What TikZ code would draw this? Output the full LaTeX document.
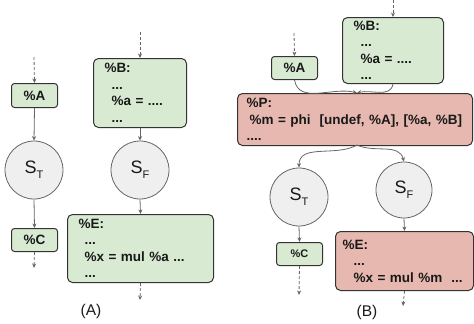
\documentclass[tikz,border=0pt]{standalone}
\usepackage{fontspec}
\setmainfont{Liberation Sans}
\usetikzlibrary{arrows.meta}
\definecolor{boxgreen}{HTML}{D9EAD3}
\definecolor{boxred}{HTML}{E6B8AF}
\definecolor{circfill}{HTML}{EFEFEF}
\definecolor{linegray}{HTML}{666666}
\definecolor{edgedark}{HTML}{333333}
\begin{document}
\begin{tikzpicture}[x=1pt,y=-1pt,
  codebox/.style={rectangle, rounded corners=5pt, draw=edgedark, line width=1pt,
    anchor=north west, align=left, inner ysep=0pt, text=black!90,
    font=\bfseries\fontsize{13.5}{16.5}\selectfont},
  greenbox/.style={codebox, fill=boxgreen},
  redbox/.style={codebox, fill=boxred},
  smallbox/.style={rectangle, rounded corners=3pt, draw=edgedark, line width=1pt,
    fill=boxgreen, anchor=north west, align=center, inner sep=0pt, text=black!90,
    font=\bfseries\fontsize{13.5}{13.5}\selectfont},
  state/.style={circle, draw=linegray, line width=0.8pt, fill=circfill, inner sep=0pt,
    minimum size=58pt, text=black!90},
  conn/.style={draw=linegray, line width=0.8pt, -{Stealth[length=4.5pt,width=4pt]}},
  dconn/.style={conn, dash pattern=on 3pt off 2pt},
  panel/.style={font=\fontsize{15.5}{15.5}\selectfont, text=black!90}
]
\useasboundingbox (0,0) rectangle (474,324);
\newcommand{\stlab}[1]{{\fontsize{18}{18}\selectfont S\raisebox{-5pt}{\fontsize{11}{11}\selectfont #1}}}

% ---------------- Panel A ----------------
\node[smallbox, minimum width=46pt, minimum height=24pt] (Aa) at (11,83) {\%A};
\node[greenbox, minimum width=93pt, minimum height=69pt, inner xsep=11pt, text width=71pt] (Ab) at (93,58)
  {\%B:\\\hspace*{7pt}...\\\hspace*{7pt}\%a = ....\\\hspace*{7pt}...};
\node[state] (STa) at (34,170) {\stlab{T}};
\node[state] (SFa) at (140,170) {\stlab{F}};
\node[smallbox, minimum width=46pt, minimum height=23pt] (Ac) at (11,228) {\%C};
\node[greenbox, minimum width=146pt, minimum height=68pt, inner xsep=11pt, text width=124pt] (Ae) at (67,214)
  {\%E:\\\hspace*{6pt}...\\\hspace*{6pt}\%x = mul \%a ...\\\hspace*{6pt}...};
\node[panel] (labA) at (91,311) {(A)};

\coordinate (Aain) at (34,57);
\coordinate (Abin) at (140,32);
\coordinate (Acout) at (34,268);
\coordinate (Aeout) at (140,300);
\draw[dconn] (Aain) -- (Aa.north);
\draw[dconn] (Abin) -- (Ab.north);
\draw[conn] (Aa.south) -- (STa.north);
\draw[conn] (Ab.south) -- (SFa.north);
\draw[conn] (STa.south) -- (Ac.north);
\draw[conn] (SFa.south) -- (Ae.north);
\draw[dconn] (Ac.south) -- (Acout);
\draw[dconn] (Ae.south) -- (Aeout);

% ---------------- Panel B ----------------
\node[smallbox, minimum width=46pt, minimum height=23pt] (Ba) at (271,56) {\%A};
\node[greenbox, minimum width=101pt, minimum height=66pt, inner xsep=11pt, text width=79pt] (Bb) at (342,17)
  {\%B:\\\hspace*{7pt}...\\\hspace*{7pt}\%a = ....\\\hspace*{7pt}...};
\node[redbox, minimum width=235pt, minimum height=52pt, inner xsep=9pt, text width=217pt] (P) at (237,93)
  {\%P:\\\hspace*{3pt}\%m = phi\ \ [undef, \%A], [\%a, \%B]\\....};
\node[state] (STb) at (299,197) {\stlab{T}};
\node[state, minimum size=56pt] (SFb) at (404,190) {\stlab{F}};
\node[smallbox, minimum width=46pt, minimum height=23pt, font=\bfseries\fontsize{11}{11}\selectfont] (Bc) at (276,242) {\%C};
\node[redbox, minimum width=138pt, minimum height=59pt, inner xsep=7pt, text width=124pt] (Be) at (335,231)
  {\%E:\\\hspace*{11pt}...\\\hspace*{11pt}\%x = mul \%m\ \ ...};
\node[panel] (labB) at (367,312) {(B)};

\coordinate (Bain) at (294,33);
\coordinate (Bbin) at (393,0);
\coordinate (Pin) at (357,93);
\coordinate (Pout) at (357,145);
\coordinate (Bcout) at (299,295);
\coordinate (Beout) at (403,306);
\draw[dconn] (Bain) -- (Ba.north);
\draw[dconn] (Bbin) -- (Bb.north);
\draw[conn] (Ba.south) to[out=-80, in=165] (Pin);
\draw[conn] (Bb.south) to[out=-100, in=15] (Pin);
\draw[conn] (Pout) to[out=-150, in=90] (STb.north);
\draw[conn] (Pout) to[out=-25, in=105] (SFb.north);
\draw[conn] (STb.south) -- (Bc.north);
\draw[conn] (SFb.south) -- (Be.north);
\draw[dconn] (Bc.south) -- (Bcout);
\draw[dconn] (Be.south) -- (Beout);
\end{tikzpicture}
\end{document}
